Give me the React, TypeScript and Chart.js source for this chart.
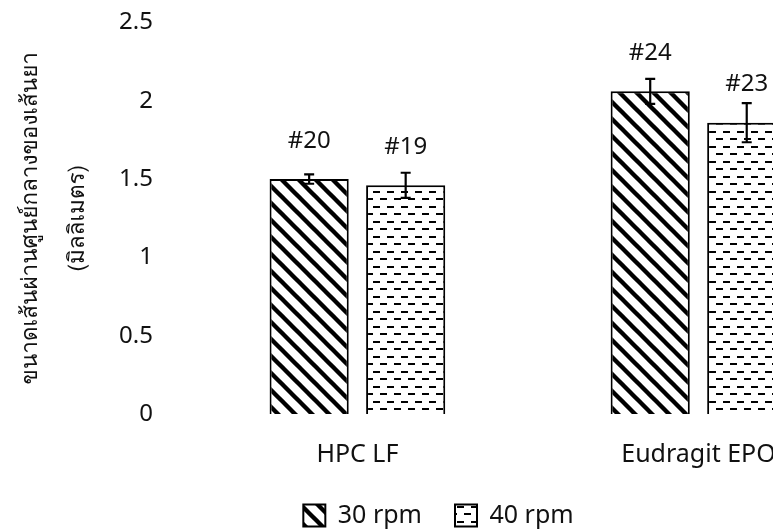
import React, { useEffect, useRef } from 'react';
import { Chart, registerables } from 'chart.js';

Chart.register(...registerables);

// ---- data ----
const categories = ['HPC LF', 'Eudragit EPO'];
const seriesNames = ['30 rpm', '40 rpm'];
const values30 = [1.5, 2.06];
const values40 = [1.46, 1.86];
const errors30 = [0.03, 0.08];
const errors40 = [0.08, 0.125];
const pointLabels30 = ['#20', '#24'];
const pointLabels40 = ['#19', '#23'];
const yTitle = ['ขนาดเส้นผ่านศูนย์กลางของเส้นยา', '(มิลลิเมตร)'];
const yMin = 0;
const yMax = 2.5;
const yStep = 0.5;

const FONT = "'Noto Sans', 'Open Sans', sans-serif";
const THAI_FONT = "'Loma', 'Waree', 'Garuda', 'Noto Sans Thai Looped', 'Noto Sans', sans-serif";
const TEXT = '#111';

function makeStripePattern(): CanvasPattern | string {
  const s = 17;
  const c = document.createElement('canvas');
  c.width = s;
  c.height = s;
  const g = c.getContext('2d');
  if (!g) return '#000';
  g.fillStyle = '#fff';
  g.fillRect(0, 0, s, s);
  g.strokeStyle = '#000';
  g.lineWidth = 4.4;
  for (const off of [-s, 0, s]) {
    g.beginPath();
    g.moveTo(off - 3, -3);
    g.lineTo(off + s + 3, s + 3);
    g.stroke();
  }
  return g.createPattern(c, 'repeat') || '#000';
}

function makeDashPattern(): CanvasPattern | string {
  const w = 14;
  const h = 15;
  const c = document.createElement('canvas');
  c.width = w;
  c.height = h;
  const g = c.getContext('2d');
  if (!g) return '#fff';
  g.fillStyle = '#fff';
  g.fillRect(0, 0, w, h);
  g.fillStyle = '#000';
  g.fillRect(1, 3, 7, 2);
  g.fillRect(8, 10, 6, 2);
  g.fillRect(0, 10, 1, 2);
  return g.createPattern(c, 'repeat') || '#fff';
}

const errorBarPlugin = {
  id: 'errorBars',
  afterDatasetsDraw(chart: any) {
    const { ctx } = chart;
    const y = chart.scales.y;
    chart.data.datasets.forEach((ds: any, i: number) => {
      const meta = chart.getDatasetMeta(i);
      meta.data.forEach((bar: any, j: number) => {
        const v = ds.data[j];
        const e = ds.errors[j];
        const top = y.getPixelForValue(v + e);
        const bot = y.getPixelForValue(v - e);
        ctx.save();
        ctx.strokeStyle = '#000';
        ctx.lineWidth = 2.2;
        ctx.beginPath();
        ctx.moveTo(bar.x, top);
        ctx.lineTo(bar.x, bot);
        ctx.moveTo(bar.x - 5, top);
        ctx.lineTo(bar.x + 5, top);
        ctx.moveTo(bar.x - 5, bot);
        ctx.lineTo(bar.x + 5, bot);
        ctx.stroke();
        ctx.restore();
      });
    });
  },
};

const pointLabelPlugin = {
  id: 'pointLabels',
  afterDatasetsDraw(chart: any) {
    const { ctx } = chart;
    chart.data.datasets.forEach((ds: any, i: number) => {
      const meta = chart.getDatasetMeta(i);
      meta.data.forEach((bar: any, j: number) => {
        ctx.save();
        ctx.fillStyle = TEXT;
        ctx.font = `24px ${FONT}`;
        ctx.textAlign = 'center';
        ctx.textBaseline = 'middle';
        ctx.fillText(ds.pointLabels[j], bar.x, bar.y - 38);
        ctx.restore();
      });
    });
  },
};

export default function App() {
  const ref = useRef<HTMLCanvasElement | null>(null);

  useEffect(() => {
    if (!ref.current) return;
    const stripes = makeStripePattern();
    const dashes = makeDashPattern();
    const chart = new Chart(ref.current, {
      type: 'bar',
      data: {
        labels: categories,
        datasets: [
          {
            label: seriesNames[0],
            data: values30,
            errors: errors30,
            pointLabels: pointLabels30,
            backgroundColor: stripes,
            borderColor: '#000',
            borderWidth: 2,
            categoryPercentage: 0.566,
            barPercentage: 0.82,
          } as any,
          {
            label: seriesNames[1],
            data: values40,
            errors: errors40,
            pointLabels: pointLabels40,
            backgroundColor: dashes,
            borderColor: '#000',
            borderWidth: 2,
            categoryPercentage: 0.566,
            barPercentage: 0.82,
          } as any,
        ],
      },
      options: {
        responsive: false,
        animation: false,
        layout: { padding: { left: 0, right: 7, top: 0, bottom: 0 } },
        font: { family: FONT, size: 24 },
        scales: {
          x: {
            grid: { display: false, drawTicks: true, tickLength: 26 },
            border: { display: false },
            ticks: { color: TEXT, font: { family: FONT, size: 25 }, padding: 0, maxRotation: 0 },
          },
          y: {
            min: yMin,
            max: yMax,
            grid: { display: false, drawTicks: true, tickLength: 34 },
            border: { display: false },
            ticks: {
              stepSize: yStep,
              color: TEXT,
              font: { family: FONT, size: 24 },
              padding: 0,
              callback: (v: any) => String(v),
            },
            title: {
              display: true,
              text: yTitle,
              color: TEXT,
              font: { family: THAI_FONT, size: 22.5, lineHeight: 47 / 22.5 },
              padding: { top: 0, bottom: 17 },
            },
          },
        },
        plugins: {
          legend: {
            position: 'bottom',
            labels: {
              boxWidth: 22,
              boxHeight: 22,
              padding: 33,
              color: TEXT,
              font: { family: FONT, size: 25 },
            },
          },
          tooltip: { enabled: false },
        },
      } as any,
      plugins: [errorBarPlugin, pointLabelPlugin],
    });
    return () => chart.destroy();
  }, []);

  return (
    <div style={{ width: 773, height: 521, overflow: 'hidden' }}>
      <canvas ref={ref} width={868} height={530} style={{ display: 'block' }} />
    </div>
  );
}
